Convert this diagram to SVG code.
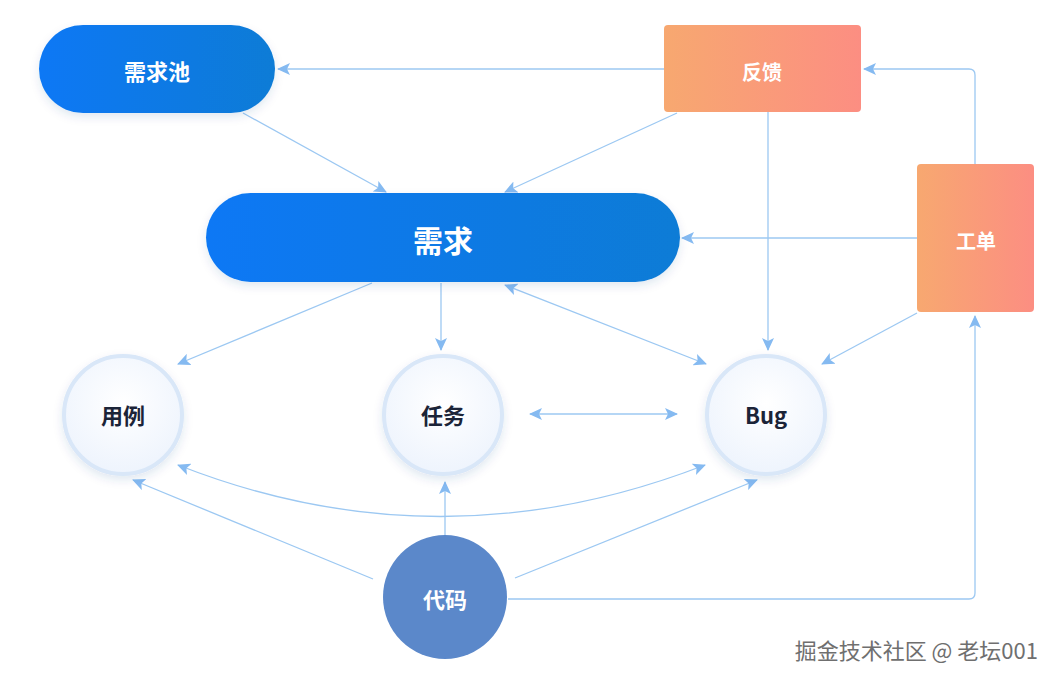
<svg xmlns="http://www.w3.org/2000/svg" width="1059" height="683" viewBox="0 0 1059 683">
<defs>
<linearGradient id="blue" x1="0" y1="0" x2="1" y2="0"><stop offset="0" stop-color="#0a78f5"/><stop offset="1" stop-color="#0d7bd6"/></linearGradient>
<linearGradient id="orange" x1="0" y1="0" x2="1" y2="0"><stop offset="0" stop-color="#f7a870"/><stop offset="1" stop-color="#fc8e82"/></linearGradient>
<radialGradient id="circ" cx="0.5" cy="0.4" r="0.6"><stop offset="0" stop-color="#ffffff"/><stop offset="1" stop-color="#eef4fd"/></radialGradient>
<filter id="sh" x="-20%" y="-20%" width="140%" height="150%"><feDropShadow dx="0" dy="4" stdDeviation="5" flood-color="#1a4a8a" flood-opacity="0.12"/></filter>
<marker id="ah" markerWidth="14" markerHeight="12" refX="12" refY="6" orient="auto-start-reverse" markerUnits="userSpaceOnUse"><path d="M0,0 L13,6 L0,12 L3,6 Z" fill="#85baf1"/></marker>
</defs>
<style>
.c{fill:none;stroke:#9cc8f2;stroke-width:1.3;marker-end:url(#ah)}
.b{marker-start:url(#ah)}
.t{font-family:"Noto Sans CJK SC","Noto Sans",sans-serif;font-weight:bold;text-anchor:middle;dominant-baseline:central}
.w{fill:#fff}
.d{fill:#1b2438}
.ring{fill:url(#circ);stroke:#d9e7f8;stroke-width:4;filter:url(#sh)}
</style>
<rect width="1059" height="683" fill="#fff"/>
<g id="connectors">
<path class="c" d="M664,69 L278,69"/>
<path class="c" d="M975,164 L975,75 Q975,69 969,69 L864,69"/>
<path class="c" d="M243,113 L386,192"/>
<path class="c" d="M677,113 L505,192"/>
<path class="c" d="M768,112 L768,350"/>
<path class="c" d="M917,238 L682,238"/>
<path class="c" d="M372,283 L178,364"/>
<path class="c" d="M441,283 L441,350"/>
<path class="c b" d="M505,285 L706,364"/>
<path class="c" d="M917,313 L822,364"/>
<path class="c b" d="M530,414 L677,414"/>
<path class="c b" d="M178,465 Q440,568 705,465"/>
<path class="c" d="M373,579 L133,480"/>
<path class="c" d="M445,535 L445,482"/>
<path class="c" d="M515,578 L757,480"/>
<path class="c" d="M508,599 L969,599 Q975,599 975,593 L975,316"/>
</g>
<g id="n-pool"><rect x="39" y="25" width="236" height="88" rx="44" fill="url(#blue)" filter="url(#sh)"/><text class="t w" x="157" y="70" font-size="22">需求池</text></g>
<g id="n-feedback"><rect x="664" y="25" width="197" height="87" rx="4" fill="url(#orange)"/><text class="t w" x="762" y="71" font-size="20">反馈</text></g>
<g id="n-req"><rect x="206" y="193" width="474" height="89" rx="44.5" fill="url(#blue)" filter="url(#sh)"/><text class="t w" x="443" y="239" font-size="30">需求</text></g>
<g id="n-ticket"><rect x="917" y="164" width="117" height="148" rx="4" fill="url(#orange)"/><text class="t w" x="976" y="240" font-size="20">工单</text></g>
<g id="n-case"><circle class="ring" cx="123" cy="415" r="59"/><text class="t d" x="123" y="414" font-size="22">用例</text></g>
<g id="n-task"><circle class="ring" cx="443" cy="415" r="59"/><text class="t d" x="443" y="414" font-size="22">任务</text></g>
<g id="n-bug"><circle class="ring" cx="766" cy="415" r="59"/><text class="t d" x="766" y="414" font-size="22">Bug</text></g>
<g id="n-code"><circle cx="445" cy="597" r="62" fill="#5b88ca"/><text class="t w" x="445" y="598" font-size="22">代码</text></g>
<text x="1038" y="649" font-family="'Noto Sans CJK SC',sans-serif" font-size="22" fill="#6f6f6f" text-anchor="end" dominant-baseline="central">掘金技术社区 @ 老坛001</text>
</svg>
